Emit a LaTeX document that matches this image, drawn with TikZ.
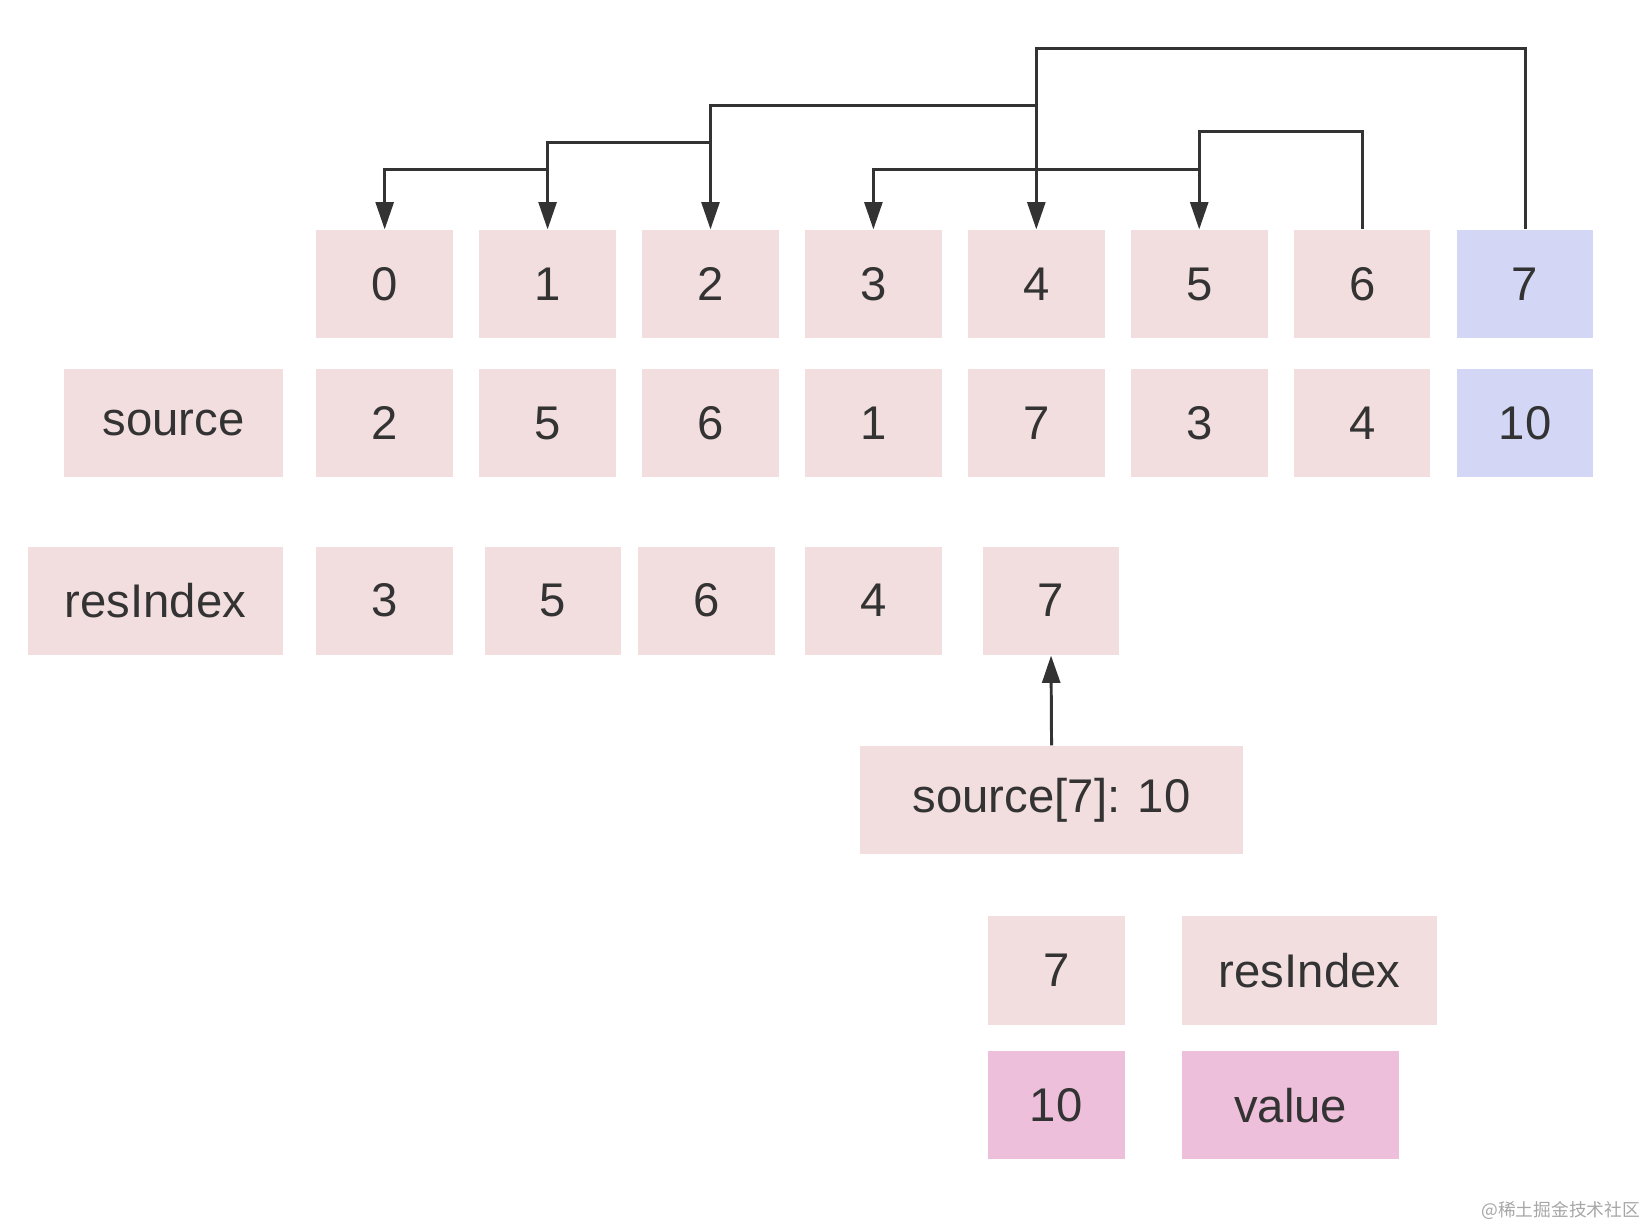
\documentclass[tikz,border=0pt]{standalone}
\usepackage{fontspec}
\setmainfont{Liberation Sans}
\newfontfamily\cjk{Noto Sans CJK SC}
\usetikzlibrary{arrows.meta}

\definecolor{cellpink}{HTML}{F3DEDF}
\definecolor{cellblue}{HTML}{D3D6F4}
\definecolor{cellrose}{HTML}{EDBFDA}
\definecolor{ink}{HTML}{333333}

\begin{document}
\begin{tikzpicture}[
		cell/.style={fill=cellpink, text=ink, minimum width=1.3cm, minimum height=1.03cm, inner sep=0pt, font=\fontsize{12.8}{15}\selectfont},
		arr/.style={draw=ink, line width=0.8pt, -{Triangle[length=2.6mm,width=1.7mm]}}
	]
				\useasboundingbox (0,0) rectangle (15.68,-11.70);
				% index row
				\node[cell] (i0) at (3.66,-2.705) {0};
				\node[cell] (i1) at (5.21,-2.705) {1};
				\node[cell] (i2) at (6.76,-2.705) {2};
				\node[cell] (i3) at (8.31,-2.705) {3};
				\node[cell] (i4) at (9.86,-2.705) {4};
				\node[cell] (i5) at (11.41,-2.705) {5};
				\node[cell] (i6) at (12.96,-2.705) {6};
				\node[cell,fill=cellblue] (i7) at (14.51,-2.705) {7};
				% source row
				\node[cell,minimum width=2.08cm] (srclabel) at (1.65,-4.025) {source};
				\node[cell] (s0) at (3.66,-4.025) {2};
				\node[cell] (s1) at (5.21,-4.025) {5};
				\node[cell] (s2) at (6.76,-4.025) {6};
				\node[cell] (s3) at (8.31,-4.025) {1};
				\node[cell] (s4) at (9.86,-4.025) {7};
				\node[cell] (s5) at (11.41,-4.025) {3};
				\node[cell] (s6) at (12.96,-4.025) {4};
				\node[cell,fill=cellblue] (s7) at (14.51,-4.025) {10};
				% resIndex row
				\node[cell,minimum width=2.42cm] (reslabel) at (1.48,-5.715) {resIndex};
				\node[cell] (r0) at (3.66,-5.715) {3};
				\node[cell] (r1) at (5.26,-5.715) {5};
				\node[cell] (r2) at (6.72,-5.715) {6};
				\node[cell] (r3) at (8.31,-5.715) {4};
				\node[cell] (r4) at (10.00,-5.715) {7};
				\node[cell,minimum width=3.65cm] (cur) at (10.005,-7.615) {source[7]: 10};
				% legend
				\node[cell] (key7) at (10.05,-9.235) {7};
				\node[cell,minimum width=2.42cm] (keyres) at (12.46,-9.235) {resIndex};
				\node[cell,fill=cellrose] (key10) at (10.05,-10.515) {10};
				\node[cell,fill=cellrose,minimum width=2.06cm] (keyval) at (12.28,-10.515) {value};
				\node[text=black!35, font=\cjk\fontsize{4.8}{6}\selectfont] (mark) at (14.85,-11.52) {@稀土掘金技术社区};
				% predecessor links
				\coordinate (j4) at (9.86,-1.00);
				\coordinate (j2) at (6.76,-1.36);
				\coordinate (j1) at (5.21,-1.61);
				\coordinate (j5) at (11.41,-1.61);
				\draw[arr] (i7.north) -- ++(0,1.72) -| (i4.north);
				\draw[arr] (j4) -| (i2.north);
				\draw[arr] (j2) -| (i1.north);
				\draw[arr] (j1) -| (i0.north);
				\draw[arr] (i6.north) -- ++(0,0.93) -| (i5.north);
				\draw[arr] (j5) -| (i3.north);
				\draw[arr] (cur.north) -- (r4.south);
			\end{tikzpicture}
\end{document}
